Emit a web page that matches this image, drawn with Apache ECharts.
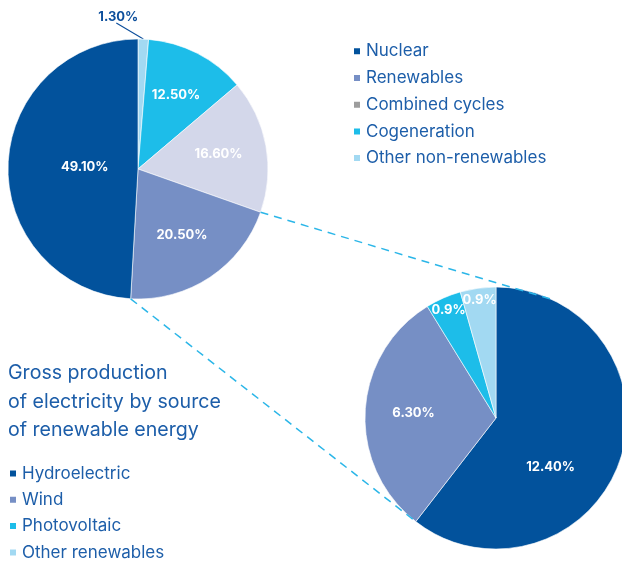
<!DOCTYPE html>
<html>
<head>
<meta charset="utf-8">
<script src="https://cdn.jsdelivr.net/npm/echarts@6/dist/echarts.min.js"></script>
<style>
html,body{margin:0;padding:0;background:#fff;}
#chart{width:622px;height:562px;}
</style>
</head>
<body>
<div id="chart"></div>
<script>
// ---- data ----
var mainNames = ['Other non-renewables', 'Cogeneration', 'Combined cycles', 'Renewables', 'Nuclear'];
var mainValues = [1.3, 12.5, 16.6, 20.5, 49.1];
var mainLabels = ['1.30%', '12.50%', '16.60%', '20.50%', '49.10%'];
var mainLegendOrder = ['Nuclear', 'Renewables', 'Combined cycles', 'Cogeneration', 'Other non-renewables'];

var renNames = ['Hydroelectric', 'Wind', 'Photovoltaic', 'Other renewables'];
var renValues = [12.4, 6.3, 0.9, 0.9];
var renLabels = ['12.40%', '6.30%', '0.9%', '0.9%'];

var titleText = 'Gross production\nof electricity by source\nof renewable energy';

// ---- style ----
var FONT = 'Inter, "Open Sans", sans-serif';
var TEXT_BLUE = '#1d5ea9';
var mainColors = ['#a2d9f2', '#1dbde9', '#d3d7ea', '#768fc5', '#02529c'];
var renColors = ['#02529c', '#768fc5', '#1dbde9', '#a2d9f2'];
var legendOverride = { 'Combined cycles': '#9d9d9d' };
var C1 = [138, 169], R1 = 130;
var C2 = [496, 418], R2 = 131;
var START = 90;
// label radial fraction per slice (style), angle shift from slice middle
var mainLabelFrac = [1.0, 0.64, 0.63, 0.61, 0.41];
var renLabelFrac = [0.56, 0.63, 0.9, 0.91];
var renLabelAngleShift = [-23, 0, 0, 0];
var connectorEndAngle2 = 65; // where the upper connector meets the small pie

function boundaries(vals) {
  var tot = vals.reduce(function (a, b) { return a + b; }, 0);
  var out = [START], acc = 0;
  vals.forEach(function (v) { acc += v; out.push(START - 360 * acc / tot); });
  return out;
}
function pt(c, r, deg) {
  var a = deg * Math.PI / 180;
  return [c[0] + r * Math.cos(a), c[1] - r * Math.sin(a)];
}
var b1 = boundaries(mainValues), b2 = boundaries(renValues);

function layoutFor(c, r, b, frac, shift) {
  return function (p) {
    var i = p.dataIndex;
    var mid = (b[i] + b[i + 1]) / 2 + (shift ? shift[i] : 0);
    var q = pt(c, r * frac[i], mid);
    return { x: q[0], y: q[1], align: 'center', verticalAlign: 'middle' };
  };
}

var mainLayout = layoutFor(C1, R1, b1, mainLabelFrac);
function mainLabelLayout(p) {
  if (p.dataIndex === 0) {
    var mid = (b1[0] + b1[1]) / 2;
    var s = pt(C1, R1, mid);
    var e = [s[0] - 27, s[1] - 16];
    return {
      x: e[0] + 2, y: e[1] - 6.5, align: 'center', verticalAlign: 'middle',
      labelLinePoints: [s, [(s[0] + e[0]) / 2, (s[1] + e[1]) / 2], e]
    };
  }
  return mainLayout(p);
}

var mainData = mainNames.map(function (n, i) {
  var d = { name: n, value: mainValues[i], itemStyle: { color: mainColors[i] } };
  if (i === 0) {
    d.label = { position: 'outside', color: '#0d4f9c' };
    d.labelLine = { show: true, lineStyle: { color: '#0d4f9c', width: 1.2 } };
  }
  return d;
});
var renData = renNames.map(function (n, i) {
  return { name: n, value: renValues[i], itemStyle: { color: renColors[i] } };
});

// connectors computed from slice geometry
var p1a = pt(C1, R1, b1[3]);              // combined / renewables boundary
var p1b = pt(C2, R2, connectorEndAngle2);
var p2a = pt(C1, R1, b1[4]);              // renewables / nuclear boundary
var p2b = pt(C2, R2, b2[1]);              // hydro / wind boundary
var dashStyle = { stroke: '#2bb6e8', lineWidth: 1.5, lineDash: [8, 6] };

var chart = echarts.init(document.getElementById('chart'), null, { renderer: 'canvas' });
chart.setOption({
  animation: false,
  backgroundColor: '#ffffff',
  textStyle: { fontFamily: FONT },
  title: {
    text: titleText, left: 8, top: 359, padding: 0,
    textStyle: { fontFamily: FONT, fontSize: 19.6, fontWeight: 'normal', color: TEXT_BLUE, lineHeight: 28.5 }
  },
  legend: [{
    orient: 'vertical', left: 352, top: 42.8, padding: 0,
    icon: 'rect', itemWidth: 8, itemHeight: 8, itemGap: 9.7, itemTextGap: 5,
    selectedMode: false,
    data: mainLegendOrder.map(function (n) {
      var o = { name: n };
      if (legendOverride[n]) o.itemStyle = { color: legendOverride[n] };
      return o;
    }),
    textStyle: { fontFamily: FONT, fontSize: 17, color: TEXT_BLUE, lineHeight: 17 }
  }, {
    orient: 'vertical', left: 8, top: 465, padding: 0,
    icon: 'rect', itemWidth: 8, itemHeight: 8, itemGap: 9.3, itemTextGap: 5,
    selectedMode: false,
    data: renNames,
    textStyle: { fontFamily: FONT, fontSize: 17, color: TEXT_BLUE, lineHeight: 17 }
  }],
  graphic: [
    { type: 'line', z: 100, shape: { x1: p1a[0], y1: p1a[1], x2: p1b[0], y2: p1b[1] }, style: dashStyle, silent: true },
    { type: 'line', z: 100, shape: { x1: p2a[0], y1: p2a[1], x2: p2b[0], y2: p2b[1] }, style: dashStyle, silent: true }
  ],
  series: [{
    type: 'pie', z: 5, center: C1, radius: [0, R1], startAngle: START, clockwise: true,
    avoidLabelOverlap: false, silent: true,
    itemStyle: { borderColor: '#ffffff', borderWidth: 0.6 },
    label: {
      show: true, position: 'inside', color: '#ffffff', fontFamily: FONT, fontSize: 13, fontWeight: 'bold',
      formatter: function (p) { return mainLabels[p.dataIndex]; }
    },
    labelLine: { show: false },
    labelLayout: mainLabelLayout,
    data: mainData
  }, {
    type: 'pie', z: 5, center: C2, radius: [0, R2], startAngle: START, clockwise: true,
    avoidLabelOverlap: false, silent: true,
    itemStyle: { borderColor: '#ffffff', borderWidth: 0.6 },
    label: {
      show: true, position: 'inside', color: '#ffffff', fontFamily: FONT, fontSize: 13, fontWeight: 'bold',
      formatter: function (p) { return renLabels[p.dataIndex]; }
    },
    labelLine: { show: false },
    labelLayout: layoutFor(C2, R2, b2, renLabelFrac, renLabelAngleShift),
    data: renData
  }]
});
</script>
</body>
</html>
